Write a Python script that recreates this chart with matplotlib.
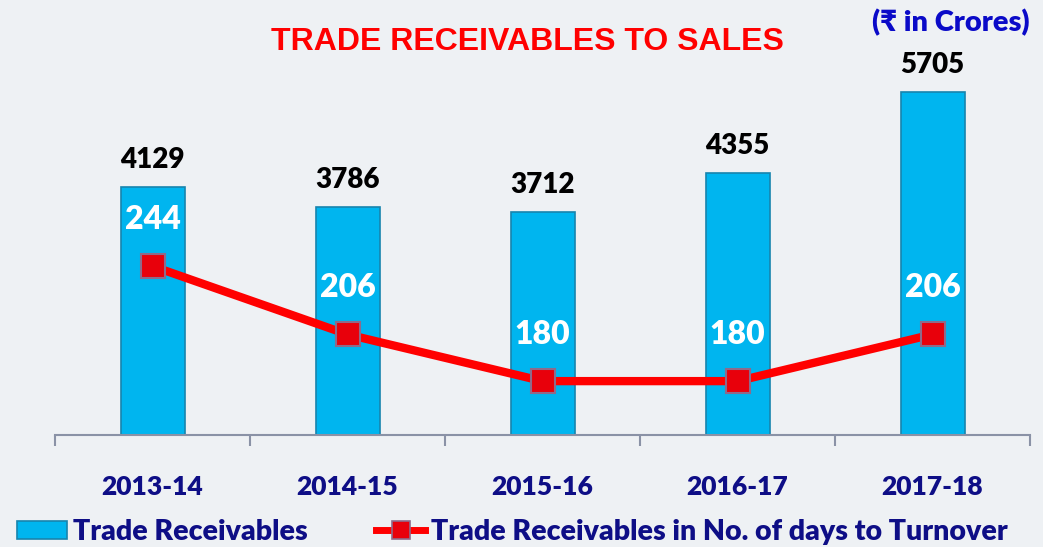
import matplotlib
matplotlib.use('Agg')
import matplotlib.pyplot as plt
import numpy as np
from matplotlib.lines import Line2D
from matplotlib.patches import Patch

years = ['2013-14', '2014-15', '2015-16', '2016-17', '2017-18']
receivables = [4129, 3786, 3712, 4355, 5705]
days = [244, 206, 180, 180, 206]

plt.rcParams['font.family'] = ['Lato', 'DejaVu Sans']
plt.rcParams['font.weight'] = 'heavy'
NAVY = '#0E0E86'

W, H = 1043, 547
fig = plt.figure(figsize=(W / 100, H / 100), dpi=100, facecolor='#EEF1F4')
ax = fig.add_axes([55 / W, 1 - 435 / H, 975 / W, 361 / H])
ax.set_facecolor('none')

x = np.arange(len(years))
bars = ax.bar(x, receivables, width=64 / 195, color='#00B5EF',
              edgecolor='#1784AE', linewidth=1.2, zorder=2)
ax.set_xlim(-0.5, len(years) - 0.5)
ax.set_ylim(0, 6000)
ax.set_yticks([])
for s in ['top', 'right', 'left']:
    ax.spines[s].set_visible(False)
ax.spines['bottom'].set_color('#8A92A6')
ax.spines['bottom'].set_linewidth(1.5)
ax.set_xticks(x)
ax.set_xticklabels(years, fontsize=19, color=NAVY, fontweight='heavy')
ax.tick_params(axis='x', which='major', length=0, pad=29)
ax.set_xticks(np.arange(-0.5, len(years)), minor=True)
ax.tick_params(axis='x', which='minor', length=8, width=1.5, color='#8A92A6', direction='out')

for xi, v in zip(x, receivables):
    ax.annotate(f'{v}', (xi, v), xytext=(0, 10), textcoords='offset points',
                ha='center', va='bottom', fontsize=20, fontweight='heavy', color='#000000')

ax2 = ax.twinx()
ax2.set_ylim(150, 351)
ax2.set_yticks([])
for s in ['top', 'right', 'left', 'bottom']:
    ax2.spines[s].set_visible(False)
ax2.plot(x, days, color='#FF0000', lw=6, marker='s', ms=17,
         mfc='#E8000B', mec='#8E6A8A', mew=1.5, zorder=3)
for xi, v in zip(x, days):
    ax2.annotate(f'{v}', (xi, v), xytext=(0, 23), textcoords='offset points',
                 ha='center', va='bottom', fontsize=23, fontweight='heavy', color='white')

fig.text(527 / W, 1 - 42 / H, 'TRADE RECEIVABLES TO SALES', ha='center', va='center',
         fontsize=23, fontweight='bold', color='#FF0000',
         family=['Liberation Sans', 'DejaVu Sans'])
fig.text(951 / W, 1 - 23 / H, '(₹ in Crores)', ha='center', va='center',
         fontsize=21, fontweight='heavy', color='#0A0AC8')

handles = [Patch(facecolor='#00B5EF', edgecolor='#1784AE', linewidth=1.2),
           Line2D([0], [0], color='#FF0000', lw=5, marker='s', ms=13,
                  mfc='#E8000B', mec='#8E6A8A', mew=1.2)]
labels = ['Trade Receivables', 'Trade Receivables in No. of days to Turnover']
fig.legend(handles, labels, loc='center left', bbox_to_anchor=(17 / W, 1 - 532 / H),
           ncol=2, frameon=False, labelcolor=NAVY, borderpad=0, borderaxespad=0,
           handlelength=1.75, handleheight=0.6, handletextpad=0.2, columnspacing=2.4,
           prop={'weight': 'heavy', 'size': 20.5, 'family': ['Lato', 'DejaVu Sans']})

fig.savefig('out.png', dpi=100, facecolor=fig.get_facecolor())
